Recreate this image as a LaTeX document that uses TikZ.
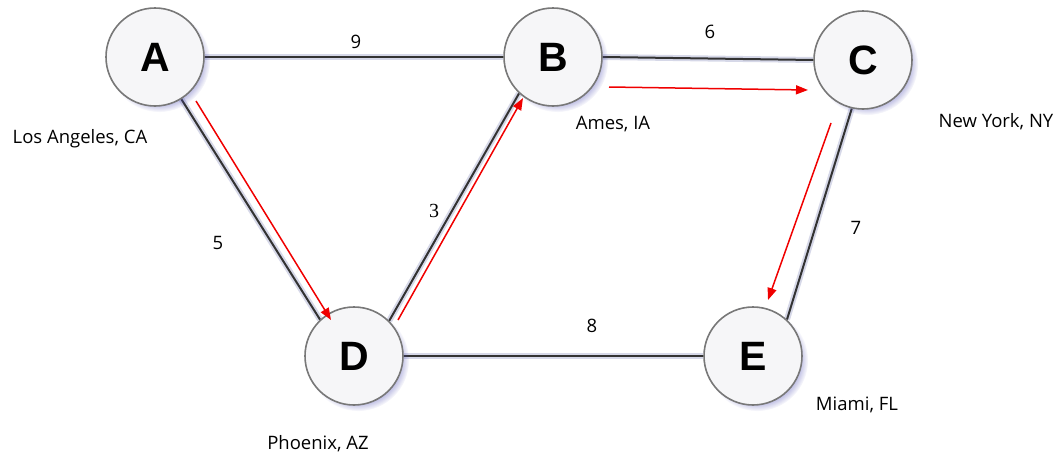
\documentclass[tikz,border=0pt]{standalone}
\usepackage{fontspec}
\setmainfont{Open Sans}
\newfontfamily\nodefont{Liberation Sans}
\newfontfamily\serifdigit{Liberation Serif}
\usetikzlibrary{arrows.meta,shadows}
\pgfdeclarelayer{background}
\pgfsetlayers{background,main}
\definecolor{edgeshade}{RGB}{214,216,232}
\definecolor{ringgray}{RGB}{120,120,120}
\definecolor{nodefill}{RGB}{246,246,248}
\definecolor{arrowred}{RGB}{240,0,0}
\tikzset{
  city/.style={circle, minimum size=98pt, inner sep=0pt, draw=ringgray, line width=1.6pt,
    fill=nodefill, font=\nodefont\bfseries\fontsize{41}{41}\selectfont,
    circular drop shadow={shadow xshift=4pt, shadow yshift=-4pt, fill=blue!40!gray, opacity=0.35, shadow scale=1.04}},
  road/.style={draw=black!80, line width=2pt},
  roadshade/.style={draw=edgeshade, line width=6pt},
  route/.style={draw=arrowred, line width=1.5pt, -{Triangle[length=12pt,width=9pt]}},
  weight/.style={font=\fontsize{18.5}{18.5}\selectfont, inner sep=0pt},
  place/.style={font=\fontsize{18.5}{18.5}\selectfont, inner sep=0pt},
}
\begin{document}
\begin{tikzpicture}[x=1pt,y=-1pt]
  \useasboundingbox (0,0) rectangle (1058,458);

  % cities
  \node[city] (A) at (155,57) {A};
  \node[city] (B) at (553,57) {B};
  \node[city] (C) at (863,60) {C};
  \node[city] (D) at (354,356) {D};
  \node[city] (E) at (753,356) {E};

  % roads, with a soft shade beside each one
  \begin{pgfonlayer}{background}
    \begin{scope}[xshift=2pt,yshift=-2.5pt]
      \draw[roadshade] (A.east) -- (B.west);
      \draw[roadshade] (B.east) -- (C.west);
      \draw[roadshade] (A.-58) -- (D.133);
      \draw[roadshade] (D.45) -- (B.227);
      \draw[roadshade] (C.-103) -- (E.47);
      \draw[roadshade] (D.east) -- (E.west);
    \end{scope}
    \draw[road] (A.east) -- (B.west);
    \draw[road] (B.east) -- (C.west);
    \draw[road] (A.-58) -- (D.133);
    \draw[road] (D.45) -- (B.227);
    \draw[road] (C.-103) -- (E.47);
    \draw[road] (D.east) -- (E.west);
  \end{pgfonlayer}

  % route taken
  \coordinate (ad1) at (196,101);
  \coordinate (ad2) at (331,320);
  \coordinate (db1) at (398,320);
  \coordinate (db2) at (523,98);
  \coordinate (bc1) at (609,87);
  \coordinate (bc2) at (808,90);
  \coordinate (ce1) at (831,123);
  \coordinate (ce2) at (768,300);
  \draw[route] (ad1) -- (ad2);
  \draw[route] (db1) -- (db2);
  \draw[route] (bc1) -- (bc2);
  \draw[route] (ce1) -- (ce2);

  % distances
  \node[weight] (wAB) at (356,42) {9};
  \node[weight] (wBC) at (710,32) {6};
  \node[weight, font=\serifdigit\fontsize{20}{20}\selectfont] (wDB) at (434,211) {3};
  \node[weight] (wAD) at (218,243) {5};
  \node[weight] (wCE) at (856,228) {7};
  \node[weight] (wDE) at (592,326) {8};

  % place names
  \node[place] (lA) at (80,139) {Los Angeles, CA};
  \node[place] (lB) at (613,124) {Ames, IA};
  \node[place] (lC) at (996,122) {New York, NY};
  \node[place] (lD) at (318,444) {Phoenix, AZ};
  \node[place] (lE) at (857,405) {Miami, FL};
\end{tikzpicture}
\end{document}
